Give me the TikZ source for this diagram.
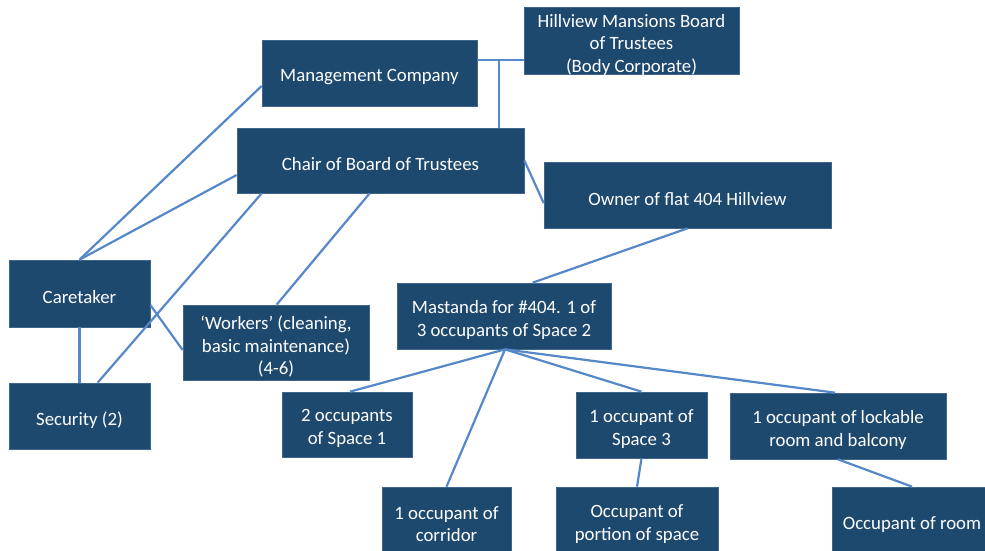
\documentclass[tikz,border=0pt]{standalone}
\usepackage{fontspec}
\setmainfont{Carlito}
\definecolor{boxblue}{RGB}{30,73,111}
\definecolor{boxedge}{RGB}{62,102,140}
\definecolor{linkblue}{RGB}{84,136,200}
\tikzset{
  box/.style={fill=boxblue, draw=boxedge, line width=0.7pt, inner sep=0pt},
  boxtext/.style={text=white, inner sep=0pt, align=center,
    font=\fontsize{18.8}{22.5}\selectfont},
  link/.style={draw=linkblue, line width=2.2pt},
}
% \orgbox{name}{centre}{width}{height}{text}: a filled box with its text set a little low
\newcommand\orgbox[5]{%
  \node[box, minimum width=#3, minimum height=#4] (#1) at (#2) {};
  \node[boxtext] (#1-text) at ([yshift=-4pt]#1.center) {#5};
}
\begin{document}
\begin{tikzpicture}[x=1pt, y=-1pt]
\useasboundingbox (0,0) rectangle (985,550);
\clip (0,0) rectangle (985,550);

% boxes
\orgbox{hill}{631.5,40.5}{215pt}{67pt}{Hillview Mansions Board\\of Trustees\\(Body Corporate)}
\orgbox{mgmt}{369.5,73}{215pt}{66pt}{Management Company}
\orgbox{chair}{380.5,160.5}{287pt}{65pt}{Chair of Board of Trustees}
\orgbox{owner}{687.5,195}{287pt}{66pt}{Owner of flat 404 Hillview}
\orgbox{care}{79.5,293.5}{141pt}{67pt}{Caretaker}
\orgbox{workers}{276,342.5}{186pt}{75pt}{‘Workers’ (cleaning,\\basic maintenance)\\(4-6)}
\orgbox{mast}{504,316}{214pt}{66pt}{Mastanda for \#404. 1 of\\3 occupants of Space 2}
\orgbox{sec}{79.5,416}{141pt}{66pt}{Security (2)}
\orgbox{sp1}{347,424.5}{130pt}{65pt}{2 occupants\\of Space 1}
\orgbox{sp3}{641.5,425}{131pt}{66pt}{1 occupant of\\Space 3}
\orgbox{lock}{838,426}{216pt}{66pt}{1 occupant of lockable\\room and balcony}
\orgbox{corr}{446.5,520}{129pt}{66pt}{1 occupant of\\corridor}
\orgbox{portion}{637,520}{162pt}{66pt}{Occupant of\\portion of space}
\orgbox{room}{912,521}{160pt}{68pt}{Occupant of room}

% connectors
\coordinate (joint) at (499,60);
\coordinate (mastfoot) at ([xshift=1pt]mast.south);
\draw[link] ([yshift=13pt]mgmt.east) -- ([yshift=-19.5pt]hill.west);
\draw[link] (joint) -- (joint |- chair.north);
\draw[link] ([yshift=-13pt]mgmt.west) -- (care.north);
\draw[link] ([yshift=-14.5pt]chair.west) -- (care.north);
\draw[link] ([xshift=25pt]chair.south west) -- ([xshift=89pt]sec.north west);
\draw[link] ([xshift=133pt]chair.south west) -- ([xshift=94pt]workers.north west);
\draw[link] (chair.east) -- ([yshift=-8pt]owner.west);
\draw[link] (owner.south) -- ([xshift=136pt]mast.north west);
\draw[link] ([yshift=-11.5pt]care.east) -- ([yshift=-7.5pt]workers.west);
\draw[link] (care.south) -- (sec.north);
\draw[link] (mastfoot) -- ([xshift=3pt]sp1.north);
\draw[link] (mastfoot) -- (corr.north);
\draw[link] (mastfoot) -- (sp3.north);
\draw[link] (mastfoot) -- ([xshift=-3pt]lock.north);
\draw[link] (sp3.south) -- (portion.north);
\draw[link] (lock.south) -- (room.north);
\end{tikzpicture}
\end{document}
